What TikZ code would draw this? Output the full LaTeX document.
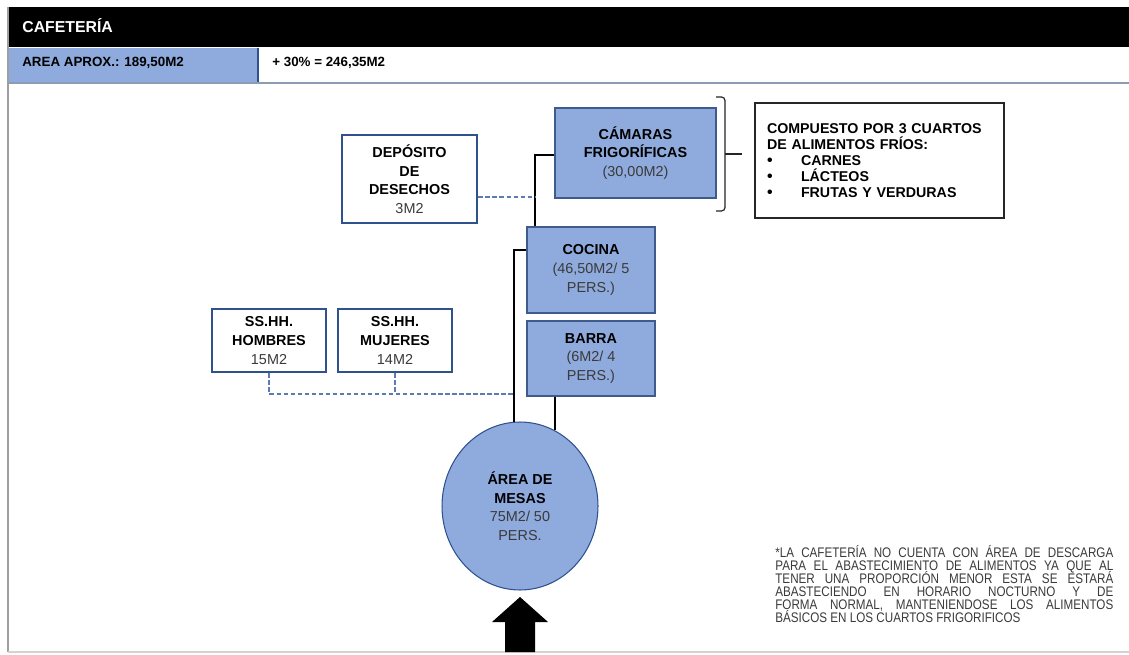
\documentclass[tikz,border=0pt]{standalone}
\usepackage{fontspec}
\setmainfont{Liberation Sans}
\newfontfamily\narrowfam[FakeStretch=0.84]{Liberation Sans}
\usetikzlibrary{shapes.geometric}
\definecolor{boxblue}{HTML}{8FAADC}
\definecolor{edgeblue}{HTML}{2F528F}
\definecolor{dashblue}{HTML}{5B7BB4}
\definecolor{txtgray}{HTML}{3A3A3A}
\definecolor{rowline}{HTML}{8E9CB3}
\newcommand\hdrf{\fontsize{9}{11}\selectfont}
\newcommand\rowf{\fontsize{7.6}{9}\selectfont}
\newcommand\bxf{\fontsize{8.2}{10.6}\selectfont}
\newcommand\cmpf{\fontsize{8.1}{9.2}\selectfont}
\newcommand\ntf{\narrowfam\fontsize{7.9}{7.4}\selectfont\lineskiplimit=-20pt\lineskip=0pt}
\newcommand\rg[1]{{\mdseries\color{txtgray}#1}}
\begin{document}
\begin{tikzpicture}[x=0.02cm,y=-0.02cm,
  bluebox/.style={draw=edgeblue!80!gray, line width=1.1pt, fill=boxblue, align=center, font=\bxf\bfseries, inner sep=2pt},
  whitebox/.style={draw=edgeblue, line width=1.6pt, fill=white, align=center, font=\bxf\bfseries, inner sep=2pt},
  notebox/.style={draw=black!85, line width=1.1pt, fill=white, align=left, font=\cmpf\bfseries, inner xsep=0.24cm, text width=4.5cm},
  link/.style={black, line width=1.4pt},
  dlink/.style={dashblue, line width=1.1pt, dash pattern=on 2.5pt off 1.5pt},
  hdr/.style={anchor=base west, inner sep=0}]
\useasboundingbox (0,0) rectangle (1129,655);
\fill[white] (0,0) rectangle (1129,655);
% frame
\fill[black] (7,7) rectangle (1129,47);
\fill[boxblue] (7,48) rectangle (258,82);
\draw[edgeblue, line width=0.6pt] (258,48) -- (258,82);
\draw[rowline, line width=1.2pt] (7,83) -- (1129,83);
\draw[gray!75, line width=1.3pt] (8,7) -- (8,652);
\draw[gray!35, line width=0.8pt] (8,652) -- (1129,652);
\node[hdr, text=white, font=\hdrf\bfseries] (title) at (22,33) {CAFETERÍA};
\node[hdr, font=\rowf\bfseries] (area) at (22,67) {AREA APROX.: 189,50M2};
\node[hdr, font=\rowf\bfseries] (plus) at (272,67) {+ 30\% = 246,35M2};
% boxes
\node[bluebox, minimum width=3.22cm, minimum height=1.8cm] (cam) at (635.5,153)
  {CÁMARAS\\FRIGORÍFICAS\\\rg{(30,00M2)}};
\node[whitebox, minimum width=2.7cm, minimum height=1.76cm] (dep) at (409.5,179)
  {DEPÓSITO\\DE\\DESECHOS\\\rg{3M2}};
\node[notebox, minimum width=4.98cm, minimum height=2.3cm] (comp) at (879.5,160.5)
  {COMPUESTO POR 3 CUARTOS\\DE ALIMENTOS FRÍOS:\\
   \makebox[0.68cm][l]{\small•}CARNES\\
   \makebox[0.68cm][l]{\small•}LÁCTEOS\\
   \makebox[0.68cm][l]{\small•}FRUTAS Y VERDURAS};
\node[bluebox, minimum width=2.56cm, minimum height=1.72cm] (coc) at (591,270)
  {COCINA\\\rg{(46,50M2/ 5}\\\rg{PERS.)}};
\node[bluebox, minimum width=2.56cm, minimum height=1.5cm] (bar) at (591,358.5)
  {BARRA\\\rg{(6M2/ 4}\\\rg{PERS.)}};
\node[whitebox, minimum width=2.28cm, minimum height=1.26cm] (hom) at (269,340.5)
  {SS.HH.\\HOMBRES\\\rg{15M2}};
\node[whitebox, minimum width=2.28cm, minimum height=1.26cm] (muj) at (395,340.5)
  {SS.HH.\\MUJERES\\\rg{14M2}};
\node[ellipse, draw=edgeblue, line width=0.6pt, fill=boxblue, minimum width=3.12cm, minimum height=3.36cm, inner sep=0, align=center, font=\bxf\bfseries] (mesa) at (520,506)
  {ÁREA DE\\MESAS\\\rg{75M2/ 50}\\\rg{PERS.}};
% connectors
\coordinate (jx) at (535,155);
\coordinate (jd) at (535,197);
\coordinate (ck) at (514,250);
\coordinate (jy) at (514,394);
\draw[link] (cam.west |- jx) -- (jx) -- (jx |- coc.north);
\draw[dlink] (dep.east |- jd) -- (jd);
\draw[link] (coc.west |- ck) -- (ck) -- (ck |- mesa.94);
\draw[link] (bar.south -| mesa.65) -- (mesa.65);
\draw[dlink] (hom.south) |- (jy);
\draw[dlink] (muj.south) -- (muj.south |- jy);
% brace
\coordinate (bt) at (716,97);
\coordinate (bb) at (716,211);
\coordinate (bm) at (742,154);
\draw[black!85, line width=0.7pt, rounded corners=2pt] (bt) -- (725,97) -- (725,211) -- (bb);
\draw[black!85, line width=0.7pt] (725,154) -- (bm);
% entrance arrow
\coordinate (tip) at (520,597);
\fill[black] (tip) -- ++(28,25) -- ++(-13,0) -- ++(0,30) -- ++(-30,0) -- ++(0,-30) -- ++(-13,0) -- cycle;
% note
\node[anchor=north west, inner sep=0, text width=6.76cm, align=justify, font=\ntf, text=txtgray] (note) at (775,545)
  {*LA CAFETERÍA NO CUENTA CON ÁREA DE DESCARGA\linebreak
   PARA EL ABASTECIMIENTO DE ALIMENTOS YA QUE AL\linebreak
   TENER UNA PROPORCIÓN MENOR ESTA SE ESTARÁ\linebreak
   ABASTECIENDO EN HORARIO NOCTURNO Y DE\linebreak
   FORMA NORMAL, MANTENIENDOSE LOS ALIMENTOS\linebreak
   BÁSICOS EN LOS CUARTOS FRIGORIFICOS};
\end{tikzpicture}
\end{document}
